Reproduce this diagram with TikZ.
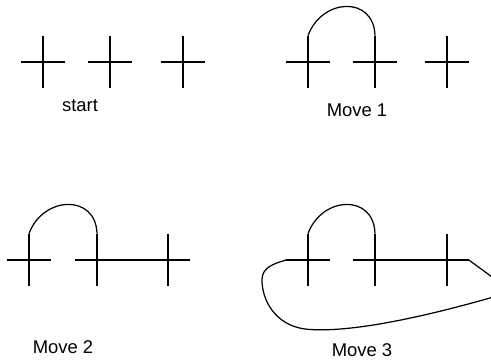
\documentclass[tikz,border=0pt]{standalone}
\usepackage{fontspec}
\setmainfont{Liberation Sans}
\begin{document}
\begin{tikzpicture}[x=0.02cm, y=-0.02cm,
    crosspt/.style={inner sep=0pt, minimum width=0.86cm, minimum height=1.04cm},
    crossline/.style={line width=1.3pt},
    strand/.style={line width=0.7pt},
    lbl/.style={font=\fontsize{10.5}{12}\selectfont}]
    \useasboundingbox (0,0) rectangle (491,360);
    % start
    \node[crosspt] (s1) at (43,62) {};
    \node[crosspt] (s2) at (110,62) {};
    \node[crosspt] (s3) at (183,62) {};
    % move 1
    \node[crosspt] (a1) at (308,62) {};
    \node[crosspt] (a2) at (375,62) {};
    \node[crosspt] (a3) at (447,62) {};
    % move 2
    \node[crosspt] (b1) at (29,260) {};
    \node[crosspt] (b2) at (97,260) {};
    \node[crosspt] (b3) at (168,260) {};
    % move 3
    \node[crosspt] (c1) at (308,260) {};
    \node[crosspt] (c2) at (375,260) {};
    \node[crosspt] (c3) at (447,260) {};
    \foreach \n in {s1,s2,s3,a1,a2,a3,b1,b2,b3,c1,c2,c3}
        \draw[crossline] (\n.west) -- (\n.east) (\n.north) -- (\n.south);
    \draw[strand] (a1.north) .. controls +(14,-38) and +(-1,-40) .. (a2.north);
    \draw[strand] (b1.north) .. controls +(14,-38) and +(-1,-40) .. (b2.north);
    \draw[strand] (b2.east) -- (b3.west);
    \draw[strand] (c1.north) .. controls +(14,-38) and +(-1,-40) .. (c2.north);
    \draw[strand] (c2.east) -- (c3.west);
    \draw[strand] (c3.east) -- (488,274) .. controls (500,282) and (502,292) .. (490,298)
        .. controls (430,315) and (350,334) .. (305,329)
        .. controls (275,325) and (262,300) .. (262,280)
        .. controls (262,268) and (272,264) .. (c1.west);
    \node[lbl] (ls) at (80,106) {start};
    \node[lbl] (l1) at (357,110) {Move 1};
    \node[lbl] (l2) at (63,347) {Move 2};
    \node[lbl] (l3) at (362,350) {Move 3};
\end{tikzpicture}
\end{document}
